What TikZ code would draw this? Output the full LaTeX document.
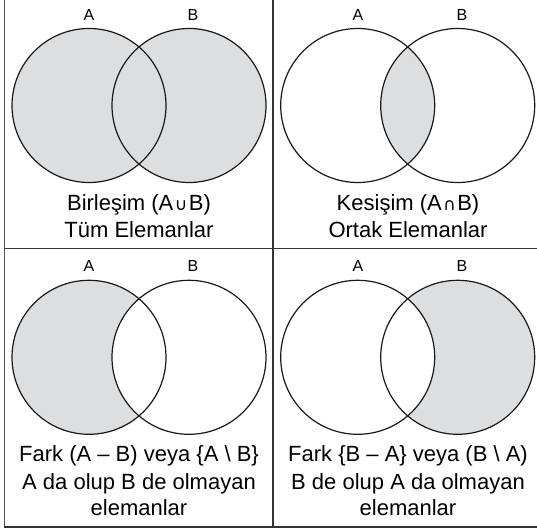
\documentclass[tikz,border=0pt]{standalone}
\usepackage{fontspec}
\setmainfont{Liberation Sans}
\newfontfamily\symfont{DejaVu Sans}
\newcommand{\opsym}[1]{\kern1.5pt{\symfont\fontsize{17}{18}\selectfont #1}\kern1.5pt}
\begin{document}
\begin{tikzpicture}[x=1pt,y=-1pt,
  ring/.style={draw=black!90,line width=1.2pt},
  shade/.style={fill=shadegrey},
  setlabel/.style={anchor=base,inner sep=0pt,font=\fontsize{16}{18}\selectfont},
  caption/.style={anchor=base,inner sep=0pt,font=\fontsize{22}{26}\selectfont},
  frameline/.style={draw=black!80,line width=1.5pt}]
\definecolor{shadegrey}{HTML}{DDDEE0}
\useasboundingbox (0,0) rectangle (537,529);
\def\R{77}
% panel 1: union
\fill[shade] (89,105.5) circle (\R);
\fill[shade] (189,105.5) circle (\R);
% panel 2: intersection
\begin{scope}
  \clip (357.7,105.5) circle (\R);
  \fill[shade] (457.7,105.5) circle (\R);
\end{scope}
% panel 3: A - B
\fill[shade] (89,357.3) circle (\R);
\begin{scope}
  \clip (89,357.3) circle (\R);
  \fill[white] (189,357.3) circle (\R);
\end{scope}
% panel 4: B - A
\fill[shade] (457.7,357.3) circle (\R);
\begin{scope}
  \clip (457.7,357.3) circle (\R);
  \fill[white] (357.7,357.3) circle (\R);
\end{scope}
% circles
\foreach \cx/\cy in {89/105.5,189/105.5,357.7/105.5,457.7/105.5,89/357.3,189/357.3,357.7/357.3,457.7/357.3}
  \draw[ring] (\cx,\cy) circle (\R);
% frame
\coordinate (tl) at (4.3,0);
\coordinate (bl) at (4.3,526.7);
\coordinate (br) at (537,526.7);
\coordinate (vt) at (273,0);
\coordinate (vb) at (273,526.7);
\coordinate (hl) at (4.3,248.7);
\coordinate (hr) at (537,248.7);
\draw[frameline,draw=black!65] (tl) -- (bl);
\draw[frameline,line width=2pt] (bl) -- (br);
\draw[frameline] (vt) -- (vb);
\draw[frameline] (hl) -- (hr);
% set labels
\node[setlabel] (a1) at (89,20.7) {A};
\node[setlabel] (b1) at (193,20.7) {B};
\node[setlabel] (a2) at (358,20.7) {A};
\node[setlabel] (b2) at (462,20.7) {B};
\node[setlabel] (a3) at (89,271.7) {A};
\node[setlabel] (b3) at (193,271.7) {B};
\node[setlabel] (a4) at (358,271.7) {A};
\node[setlabel] (b4) at (462,271.7) {B};
% captions
\node[caption] (c1a) at (139,210.7) {Birleşim (A\opsym{∪}B)};
\node[caption] (c1b) at (139,237) {Tüm Elemanlar};
\node[caption] (c2a) at (408,210.7) {Kesişim (A\opsym{∩}B)};
\node[caption] (c2b) at (408,237) {Ortak Elemanlar};
\node[caption] (c3a) at (139,461.7) {Fark (A – B) veya \{A \textbackslash{} B\}};
\node[caption] (c3b) at (139,489.3) {A da olup B de olmayan};
\node[caption] (c3c) at (139,515) {elemanlar};
\node[caption] (c4a) at (408,461.7) {Fark \{B – A\} veya (B \textbackslash{} A)};
\node[caption] (c4b) at (408,489.3) {B de olup A da olmayan};
\node[caption] (c4c) at (408,515) {elemanlar};
\end{tikzpicture}
\end{document}
